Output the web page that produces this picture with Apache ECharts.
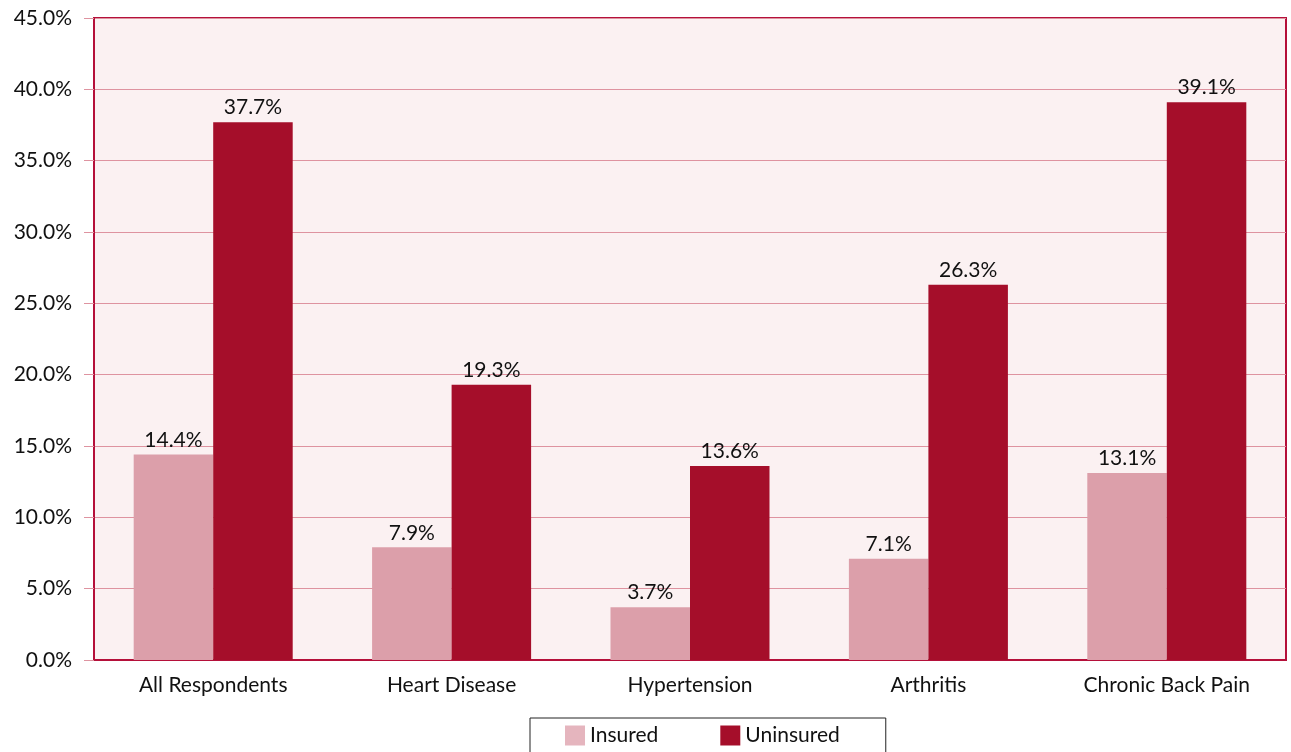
<!DOCTYPE html>
<html><head><meta charset="utf-8">
<script src="https://cdn.jsdelivr.net/npm/echarts@6/dist/echarts.min.js"></script>
<style>html,body{margin:0;padding:0;background:#fff}#c{width:1291px;height:752px}</style>
</head><body><div id="c"></div>
<script>
const categories = ["All Respondents", "Heart Disease", "Hypertension", "Arthritis", "Chronic Back Pain"];
const insured = [14.4, 7.9, 3.7, 7.1, 13.1];
const uninsured = [37.7, 19.3, 13.6, 26.3, 39.1];
const seriesNames = ["Insured", "Uninsured"];

const FONT = 'Lato, "Noto Sans", sans-serif';
const chart = echarts.init(document.getElementById('c'));
const lbl = {
  show: true, position: 'top', distance: 4, color: '#111', fontFamily: FONT, fontSize: 21,
  formatter: p => p.value.toFixed(1) + '%'
};
chart.setOption({
  animation: false,
  backgroundColor: '#fff',
  grid: { left: 94, right: 5, top: 18, bottom: 92, show: true, backgroundColor: '#FBF1F2', borderColor: '#B5103A', borderWidth: 2 },
  xAxis: {
    type: 'category', data: categories,
    axisLine: { show: true, lineStyle: { color: '#B5103A', width: 2 } },
    axisTick: { show: false },
    axisLabel: { color: '#111', fontFamily: FONT, fontSize: 21, margin: 15 }
  },
  yAxis: {
    type: 'value', min: 0, max: 45, interval: 5,
    axisLine: { show: true, lineStyle: { color: '#B5103A', width: 2 } },
    axisTick: { show: true, length: 10, lineStyle: { color: '#DE93A0' } },
    splitLine: { lineStyle: { color: '#DE93A0', width: 1 } },
    axisLabel: { color: '#111', fontFamily: FONT, fontSize: 21, margin: 22, formatter: v => v.toFixed(1) + '%' }
  },
  legend: {
    left: 530, top: 718,
    padding: [7, 46, 30, 35],
    borderColor: '#222', borderWidth: 1,
    itemWidth: 20, itemHeight: 20, itemGap: 62,
    icon: 'rect',
    textStyle: { color: '#111', fontFamily: FONT, fontSize: 21 },
    data: [
      { name: seriesNames[0], itemStyle: { color: '#E5B5BE' } },
      { name: seriesNames[1] }
    ]
  },
  series: [
    { name: seriesNames[0], type: 'bar', data: insured, barGap: '0%', barCategoryGap: '33.3%',
      itemStyle: { color: '#DC9FAA' }, label: lbl },
    { name: seriesNames[1], type: 'bar', data: uninsured, barGap: '0%', barCategoryGap: '33.3%',
      itemStyle: { color: '#A50E2A' }, label: lbl }
  ]
});
</script></body></html>
